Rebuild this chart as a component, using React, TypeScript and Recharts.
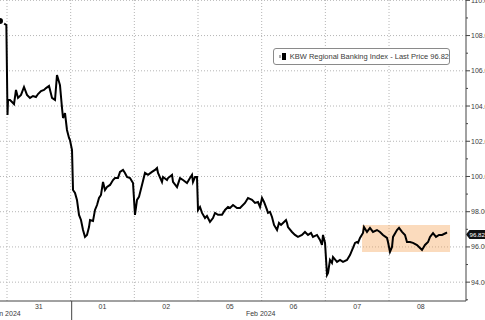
import { LineChart, Line, XAxis, YAxis, CartesianGrid, ReferenceArea, ReferenceLine } from "recharts";

// position in trading days (0 = start of Jan 31), and index level
const DAYS = [
  -0.11, -0.079, -0.031, -0.01, 0.008, 0.016, 0.047, 0.079, 0.11, 0.141, 0.173, 0.22, 0.267, 0.314, 0.361, 0.408, 0.455,
  0.487, 0.534, 0.581, 0.613, 0.66, 0.707, 0.754, 0.785, 0.832, 0.864, 0.88, 0.911, 0.942, 0.974, 0.989, 1.021,
  1.037, 1.068, 1.099, 1.131, 1.162, 1.194, 1.225, 1.256, 1.288, 1.304, 1.351, 1.382, 1.414, 1.445, 1.476, 1.508,
  1.539, 1.571, 1.618, 1.665, 1.696, 1.743, 1.775, 1.822, 1.853, 1.885, 1.932, 1.979, 2.01, 2.042, 2.073, 2.12,
  2.167, 2.215, 2.277, 2.325, 2.356, 2.372, 2.434, 2.45, 2.513, 2.529, 2.592, 2.607, 2.67, 2.717, 2.764, 2.827,
  2.874, 2.906, 2.921, 2.953, 2.984, 3.0, 3.031, 3.063, 3.11, 3.141, 3.188, 3.235, 3.267, 3.314, 3.377, 3.424,
  3.471, 3.502, 3.55, 3.612, 3.66, 3.738, 3.785, 3.848, 3.895, 3.942, 3.974, 4.005, 4.037, 4.084, 4.099, 4.131,
  4.162, 4.194, 4.241, 4.272, 4.304, 4.335, 4.382, 4.398, 4.413, 4.476, 4.523, 4.57, 4.633, 4.68, 4.728, 4.775,
  4.806, 4.869, 4.916, 4.947, 4.963, 4.995, 5.026, 5.042, 5.073, 5.104, 5.12, 5.183, 5.23, 5.277, 5.34, 5.387,
  5.434, 5.466, 5.497, 5.513, 5.544, 5.591, 5.607, 5.654, 5.701, 5.748, 5.811, 5.858, 5.905, 5.968, 5.984, 6.015,
  6.047, 6.063, 6.125, 6.157, 6.204, 6.251, 6.282, 6.33, 6.377, 6.44, 6.487, 6.518, 6.565, 6.613, 6.644, 6.691,
  6.738, 6.785, 6.833, 6.895, 6.911,
];
const KRX = [
  108.83, 108.77, 108.65, 108.6, 103.49, 104.34, 104.34, 104.23, 104.11, 104.91, 104.46, 104.63, 105.08, 104.63, 104.46, 104.57, 104.51,
  104.68, 104.85, 104.91, 105.02, 105.14, 104.46, 104.34, 105.76, 105.19, 103.89, 103.32, 103.6, 102.64, 102.19, 102.07, 101.5,
  99.23, 99.06, 98.67, 97.82, 97.53, 96.96, 96.57, 96.68, 97.13, 97.53, 97.47, 98.1, 98.38, 98.78, 98.95, 99.69,
  99.23, 99.4, 99.52, 99.8, 99.91, 99.91, 100.26, 100.37, 100.2, 99.97, 99.91, 99.63, 97.82, 98.67, 98.84, 99.52,
  100.2, 100.09, 100.26, 100.37, 100.48, 100.2, 99.69, 99.97, 99.8, 99.91, 100.09, 99.69, 99.4, 99.91, 99.8, 99.63,
  99.91, 100.09, 99.69, 99.97, 99.97, 98.1, 98.27, 97.93, 97.64, 97.76, 97.42, 97.64, 97.93, 97.82, 97.82, 98.1,
  98.27, 98.21, 98.38, 98.21, 98.21, 98.5, 98.78, 98.67, 98.5, 98.55, 98.27, 98.78, 98.55, 98.1, 97.93, 97.99,
  97.7, 97.25, 96.96, 97.36, 97.25, 97.36, 97.53, 97.36, 97.13, 96.85, 96.68, 96.57, 96.68, 96.85, 96.68, 96.79,
  96.57, 96.68, 96.4, 96.11, 96.68, 96.23, 94.41, 94.52, 95.26, 95.09, 95.43, 95.15, 95.26, 95.15, 95.26, 95.54,
  95.94, 96.23, 96.28, 96.23, 96.51, 96.79, 97.13, 96.85, 97.08, 96.85, 96.96, 96.85, 96.68, 96.51, 96.28, 95.72,
  96.0, 96.57, 96.96, 97.08, 96.85, 96.68, 96.28, 96.28, 96.23, 96.11, 95.94, 95.83, 96.11, 96.28, 96.57, 96.79,
  96.57, 96.68, 96.68, 96.79, 96.82,
];

const DAY_LABELS = ["31", "01", "02", "05", "06", "07", "08"];
const MONTHS = ["Jan 2024", "Feb 2024"];
const LAST_PRICE = 96.82;
const RANGE_DAYS = [5.576, 6.958];
const RANGE_LEVEL = [95.71, 97.24];

const data = DAYS.map((d, i) => ({ t: d, v: KRX[i] }));

const FONT = "'Liberation Sans', Arial, sans-serif";
const TXT = "#3a3a3a";

const yTicks: number[] = [];
for (let v = 93; v <= 110; v++) yTicks.push(v);
const gridY = yTicks.filter(v => v % 2 === 0);

// eslint-disable-next-line @typescript-eslint/no-explicit-any
const YTick = ({ x, y, payload }: any) => {
  const major = payload.value % 2 === 0;
  return (
    <g>
      <line x1={x} x2={x + (major ? 4 : 2)} y1={y} y2={y} stroke="#444" />
      {major && (
        <text x={x + 5} y={y + 2.5} fontSize={7} fontFamily={FONT} fill={TXT}>
          {payload.value.toFixed(2)}
        </text>
      )}
    </g>
  );
};

// eslint-disable-next-line @typescript-eslint/no-explicit-any
const XTick = ({ x, y, payload }: any) => {
  const v = payload.value as number;
  if (v === 1) {
    // month separator + month captions
    return (
      <g>
        <line x1={x + 1} x2={x + 1} y1={y} y2={y + 20} stroke="#444" />
        <text x={x - 50} y={y + 15} textAnchor="end" fontSize={7} fontFamily={FONT} fill={TXT}>{MONTHS[0]}</text>
        <text x={x + 190} y={y + 15} textAnchor="middle" fontSize={7} fontFamily={FONT} fill={TXT}>{MONTHS[1]}</text>
      </g>
    );
  }
  const idx = Math.floor(v);
  return (
    <text x={x} y={y + 8} textAnchor="middle" fontSize={7} fontFamily={FONT} fill={TXT}>
      {DAY_LABELS[idx]}
    </text>
  );
};

// eslint-disable-next-line @typescript-eslint/no-explicit-any
const LastTag = ({ viewBox }: any) => {
  const x = viewBox.x + viewBox.width;
  const y = viewBox.y + 2;
  return (
    <g>
      <path d={`M${x} ${y} L${x + 3.5} ${y - 4.5} L${x + 24} ${y - 4.5} L${x + 24} ${y + 4.5} L${x + 3.5} ${y + 4.5} Z`} fill="#111" />
      <text x={x + 3.5} y={y + 2.3} fontSize={6.2} fontFamily={FONT} fill="#fff">{LAST_PRICE.toFixed(2)}</text>
    </g>
  );
};

export default function App() {
  return (
    <div style={{ position: "absolute", left: 0, top: 0, width: 485, height: 320, background: "#fff" }}>
      <LineChart width={485} height={320} data={data} margin={{ top: 0, right: 0, left: 0, bottom: 0 }}>
        <CartesianGrid
          stroke="#b5b5b5"
          strokeDasharray="1 2"
          horizontalValues={gridY}
          verticalValues={[0, 1, 2, 3, 4, 5, 6]}
        />
        <XAxis
          dataKey="t"
          type="number"
          domain={[-0.11, 7.209]}
          allowDataOverflow
          ticks={[0.5, 1, 1.5, 2.5, 3.5, 4.5, 5.5, 6.5]}
          interval={0}
          height={19}
          tickSize={0}
          tickMargin={0}
          tickLine={false}
          axisLine={{ stroke: "#444" }}
          tick={<XTick />}
        />
        <YAxis
          orientation="right"
          type="number"
          domain={[92.93, 110.02]}
          allowDataOverflow
          ticks={yTicks}
          interval={0}
          width={19}
          tickSize={0}
          tickMargin={0}
          tickLine={false}
          axisLine={{ stroke: "#444" }}
          tick={<YTick />}
        />
        <Line
          type="linear"
          dataKey="v"
          stroke="#000"
          strokeWidth={2}
          dot={false}
          isAnimationActive={false}
        />
        <ReferenceArea
          x1={RANGE_DAYS[0]}
          x2={RANGE_DAYS[1]}
          y1={RANGE_LEVEL[0]}
          y2={RANGE_LEVEL[1]}
          fill="#f5a55a"
          fillOpacity={0.4}
          stroke="none"
        />
        <ReferenceLine y={LAST_PRICE} stroke="none" label={<LastTag />} />
      </LineChart>
      <div
        style={{
          position: "absolute", left: 273, top: 48, width: 177, height: 17,
          border: "1px solid #8a8a8a", borderRadius: 3, background: "#fff",
          display: "flex", alignItems: "center", boxSizing: "border-box",
          fontFamily: FONT, fontSize: 7.5, color: TXT, whiteSpace: "nowrap",
        }}
      >
        <span style={{ display: "inline-block", width: 3, height: 3, background: "#aaa", marginLeft: 5 }} />
        <span style={{ display: "inline-block", width: 7, height: 7, background: "#000", marginLeft: 1, marginRight: 4 }} />
        KBW Regional Banking Index - Last Price {LAST_PRICE.toFixed(2)}
      </div>
    </div>
  );
}
